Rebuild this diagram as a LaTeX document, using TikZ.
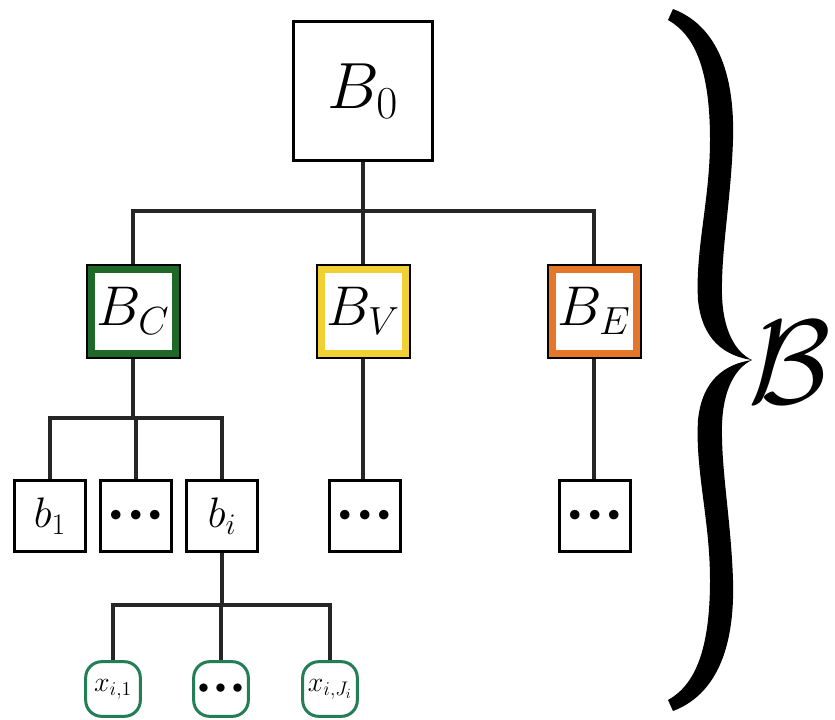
\RequirePackage{fix-cm}
\documentclass[tikz,border=0pt]{standalone}
\usetikzlibrary{backgrounds}
\definecolor{cgreen}{RGB}{30,105,40}
\definecolor{cyellow}{RGB}{240,208,50}
\definecolor{corange}{RGB}{230,118,40}
\definecolor{xgreen}{RGB}{35,125,85}
\newcommand{\tridots}{{\cdot}{\cdot}{\cdot}}
\begin{document}
\begin{tikzpicture}[x=0.75pt,y=-0.75pt,
  box/.style={draw=black, line width=2.25pt, fill=white, minimum size=#1, inner sep=0pt, outer sep=0pt},
  colbox/.style={draw=#1, line width=5.25pt, fill=white, minimum size=63pt, inner sep=0pt, outer sep=0pt,
    font=\fontsize{42pt}{44pt}\selectfont},
  colframe/.style={draw=black, line width=1.5pt},
  smallbox/.style={box=53pt, font=\fontsize{32pt}{34pt}\selectfont},
  dotsfont/.style={font=\fontsize{#1}{#1}\selectfont\boldmath},
  xbox/.style={draw=xgreen, line width=2.25pt, fill=white, minimum size=41pt, rounded corners=12pt,
    inner sep=0pt, outer sep=0pt, font=\fontsize{21pt}{23pt}\selectfont},
  conn/.style={draw=black!85, line width=2.6pt}]
\useasboundingbox (0,0) rectangle (835,719);

\coordinate (bar0) at (0,211);
\coordinate (barC) at (0,418);
\coordinate (barI) at (0,605);

\node[box=104pt, font=\fontsize{49pt}{51pt}\selectfont] (B0) at (363,91) {$B_0$};
\node[colbox=cgreen] (BC) at (133,311) {$B_C$};
\node[colbox=cyellow] (BV) at (363,311) {$B_V$};
\node[colbox=corange] (BE) at (594,311) {$B_E$};
\foreach \n in {BC,BV,BE}{
  \draw[colframe] ([shift={(-4.5,-4.5)}]\n.north west) rectangle ([shift={(4.5,4.5)}]\n.south east);
}

\node[smallbox] (b1) at (50,516) {$b_1$};
\node[smallbox, dotsfont=46pt] (bd) at (136,516) {$\tridots$};
\node[smallbox] (bi) at (222,516) {$b_i$};
\node[smallbox, dotsfont=46pt] (vd) at (365,516) {$\tridots$};
\node[smallbox, dotsfont=46pt] (ed) at (595,516) {$\tridots$};

\node[xbox] (x1) at (113,689) {$x_{i,1}$};
\node[xbox, dotsfont=40pt] (xd) at (221,689) {$\tridots$};
\node[xbox] (xJ) at (330,689) {$x_{i,J_i}$};

\begin{pgfonlayer}{background}
  \draw[conn] (B0.center) -- (B0.center |- bar0) -| (BC.center);
  \draw[conn] (B0.center |- bar0) -| (BE.center);
  \draw[conn] (B0.center) -- (BV.center);
  \draw[conn] (BC.center) -- (BC.center |- barC) -| (b1.center);
  \draw[conn] (BC.center |- barC) -| (bd.center);
  \draw[conn] (BC.center |- barC) -| (bi.center);
  \draw[conn] (BV.center) -- (BV.center |- vd.center);
  \draw[conn] (BE.center) -- (BE.center |- ed.center);
  \draw[conn] (bi.center) -- (bi.center |- barI) -| (x1.center);
  \draw[conn] (bi.center |- barI) -| (xd.center);
  \draw[conn] (bi.center |- barI) -| (xJ.center);
\end{pgfonlayer}

% brace
\fill (668,20) -- (673,9)
  .. controls (715,25) and (735,70) .. (733,140)
  .. controls (731,200) and (721,250) .. (722,295)
  .. controls (723,330) and (735,352) .. (752,360)
  .. controls (725,356) and (702,340) .. (698,300)
  .. controls (695,250) and (710,200) .. (710,140)
  .. controls (710,70) and (695,35) .. (668,20) -- cycle;
\begin{scope}[shift={(0,720)}, yscale=-1]
\fill (668,20) -- (673,9)
  .. controls (715,25) and (735,70) .. (733,140)
  .. controls (731,200) and (721,250) .. (722,295)
  .. controls (723,330) and (735,352) .. (752,360)
  .. controls (725,356) and (702,340) .. (698,300)
  .. controls (695,250) and (710,200) .. (710,140)
  .. controls (710,70) and (695,35) .. (668,20) -- cycle;
\end{scope}
\node[anchor=west, inner sep=0pt, font=\fontsize{90pt}{92pt}\selectfont] (cB) at (748,362) {$\mathcal{B}$};
\end{tikzpicture}
\end{document}
